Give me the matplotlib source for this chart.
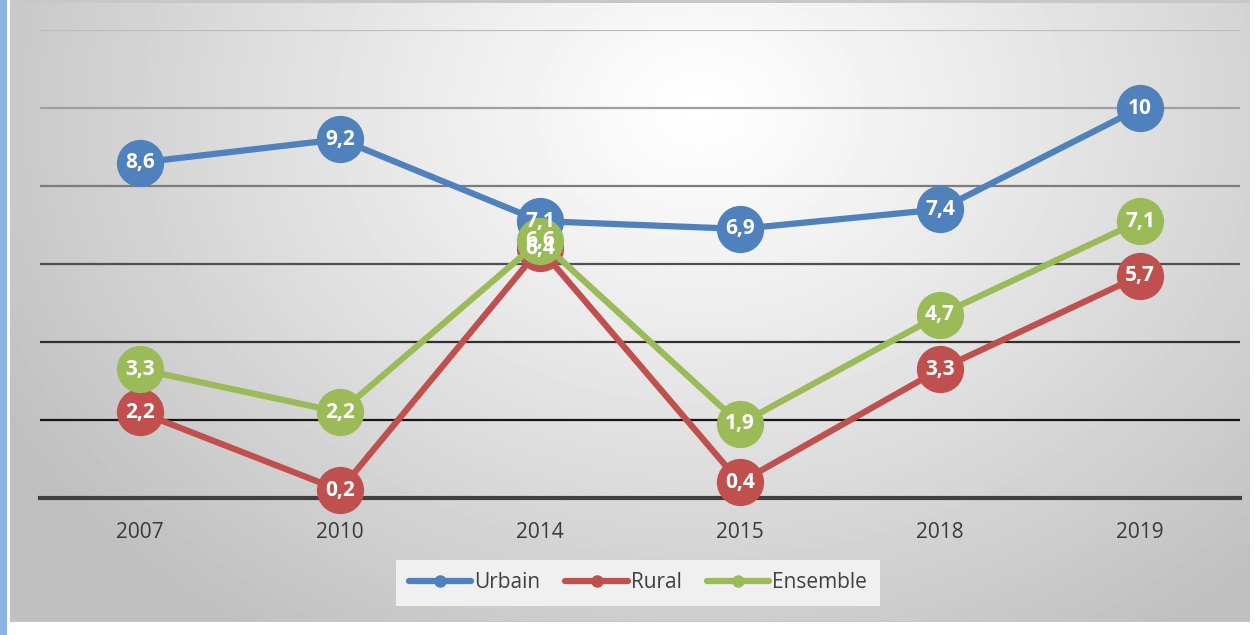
import numpy as np
import matplotlib.pyplot as plt
from matplotlib.patches import Rectangle
from matplotlib.lines import Line2D

annees = ['2007', '2010', '2014', '2015', '2018', '2019']
urbain = [8.6, 9.2, 7.1, 6.9, 7.4, 10]
rural = [2.2, 0.2, 6.4, 0.4, 3.3, 5.7]
ensemble = [3.3, 2.2, 6.6, 1.9, 4.7, 7.1]

series = [('Urbain', urbain, '#4f81bd'),
          ('Rural', rural, '#c0504d'),
          ('Ensemble', ensemble, '#9bbb59')]

W, H = 1255, 635
fig = plt.figure(figsize=(W / 100, H / 100), dpi=100)
fig.patch.set_facecolor('white')

# fond en dégradé radial (blanc au centre, gris sur les bords)
bg = fig.add_axes([10 / W, 13 / H, 1240 / W, 622 / H])
yy, xx = np.mgrid[0:622, 0:1240]
d = np.hypot((xx - 690) / 1.0, (yy - 110) / 0.8)
d = np.clip(d / 800, 0, 1)
gris = 1.0 - 0.25 * d ** 1.1
bg.imshow(gris, cmap='gray', vmin=0, vmax=1, aspect='auto', interpolation='bilinear')
bg.set_xticks([])
bg.set_yticks([])
for s in bg.spines.values():
    s.set_visible(False)
fig.add_artist(Rectangle((10 / W, 13 / H), 1240 / W, 1.5 / H, transform=fig.transFigure,
                         color='#c8c8c8', lw=0))
fig.add_artist(Rectangle((10 / W, 632 / H), 1240 / W, 3 / H, transform=fig.transFigure,
                         color='#c8c8c8', lw=0))
fig.add_artist(Rectangle((0, 0), 7 / W, 1, transform=fig.transFigure,
                         color='#8db3e2', lw=0))

ax = fig.add_axes([40 / W, 137 / H, 1200 / W, 468 / H])
ax.set_facecolor('none')
ax.set_xlim(-0.5, 5.5)
ax.set_ylim(0, 12)

# lignes de quadrillage, de plus en plus foncées vers le bas
grilles = {12: '#bdbdbd', 10: '#a0a0a0', 8: '#7c7c7c', 6: '#505050',
           4: '#303030', 2: '#151515'}
for niveau, c in grilles.items():
    ax.axhline(niveau, color=c, lw=1.6, zorder=1)
ax.axhline(0, color='#404040', lw=3, zorder=1, clip_on=False)

x = np.arange(len(annees))
for i, (nom, vals, c) in enumerate(series):
    ax.plot(x, vals, color=c, lw=4.5, marker='o', markersize=33,
            solid_capstyle='round', zorder=3 + i, clip_on=False)
    for xi, v in zip(x, vals):
        txt = f'{v:g}'.replace('.', ',')
        ax.text(xi, v, txt, ha='center', va='center', color='white',
                fontsize=15, fontweight='bold', family='Open Sans', zorder=10)

ax.set_xticks(x)
ax.set_xticklabels(annees, fontsize=15, color='#3a3a3a', family='Open Sans')
ax.tick_params(axis='x', length=0, pad=17)
ax.set_yticks([])
for s in ax.spines.values():
    s.set_visible(False)

handles = [Line2D([0], [0], color=c, lw=4.5, marker='o', markersize=8,
                  solid_capstyle='round') for _, _, c in series]
leg = fig.legend(handles, [n for n, _, _ in series], loc='center',
                 bbox_to_anchor=(638 / W, 1 - 583 / H), ncol=3, frameon=True,
                 fancybox=False, handlelength=3.0, handletextpad=0.15,
                 columnspacing=1.2, borderpad=0.6,
                 prop={'family': 'Open Sans', 'size': 15})
leg.get_frame().set_facecolor('#f0f0f0')
leg.get_frame().set_edgecolor('none')
leg.get_frame().set_alpha(1)
for t in leg.get_texts():
    t.set_color('#404040')

fig.savefig('out.png', dpi=100)
